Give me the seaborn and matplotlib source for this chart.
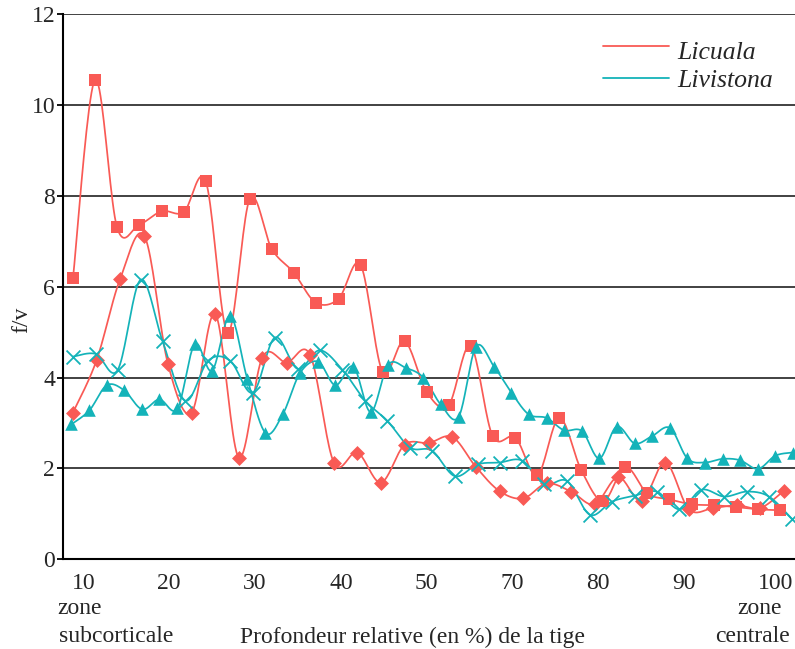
import numpy as np
import pandas as pd
import matplotlib
matplotlib.use("Agg")
import matplotlib.pyplot as plt
import seaborn as sns
from matplotlib.lines import Line2D

# ---------------- data ----------------
x_tick_labels = ["10", "20", "30", "40", "50", "70", "80", "90", "100"]

lic_sq_x = [10.0, 12.8, 15.6, 18.4, 21.3, 24.1, 26.9, 29.7, 32.5, 35.3, 38.1, 40.9, 43.8,
            46.6, 49.4, 52.2, 55.0, 57.8, 60.6, 63.4, 66.3, 69.1, 71.9, 74.7, 77.5, 80.3,
            83.1, 85.9, 88.8, 91.6, 94.4, 97.2, 100.0]
lic_sq_y = [6.19, 10.55, 7.31, 7.36, 7.66, 7.64, 8.32, 4.99, 7.93, 6.83, 6.31, 5.65, 5.73,
            6.48, 4.13, 4.80, 3.69, 3.39, 4.70, 2.72, 2.68, 1.85, 3.11, 1.96, 1.28, 2.03,
            1.45, 1.32, 1.21, 1.19, 1.15, 1.10, 1.08]

lic_di_x = [10.0, 13.0, 16.0, 19.1, 22.1, 25.1, 28.1, 31.1, 34.1, 37.2, 40.2, 43.2, 46.2,
            49.2, 52.2, 55.3, 58.3, 61.3, 64.3, 67.3, 70.3, 73.4, 76.4, 79.4, 82.4, 85.4,
            88.4, 91.5, 94.5, 97.5, 100.5]
lic_di_y = [3.23, 4.38, 6.17, 7.11, 4.29, 3.23, 5.40, 2.24, 4.44, 4.33, 4.49, 2.13, 2.35,
            1.69, 2.52, 2.56, 2.69, 2.03, 1.50, 1.34, 1.67, 1.49, 1.21, 1.81, 1.28, 2.13,
            1.10, 1.13, 1.19, 1.13, 1.51]

liv_tr_x = [9.8, 12.1, 14.3, 16.5, 18.8, 21.0, 23.3, 25.5, 27.7, 30.0, 32.2, 34.5, 36.7,
            38.9, 41.2, 43.4, 45.7, 47.9, 50.1, 52.4, 54.6, 56.8, 59.1, 61.3, 63.6, 65.8,
            68.0, 70.3, 72.5, 74.8, 77.0, 79.2, 81.5, 83.7, 86.0, 88.2, 90.4, 92.7, 94.9,
            97.2, 99.4, 101.6]
liv_tr_y = [2.97, 3.28, 3.83, 3.72, 3.30, 3.52, 3.32, 4.74, 4.15, 5.36, 3.96, 2.78, 3.19,
            4.10, 4.35, 3.83, 4.24, 3.24, 4.28, 4.21, 4.00, 3.41, 3.14, 4.68, 4.24, 3.67,
            3.19, 3.11, 2.84, 2.82, 2.22, 2.92, 2.55, 2.71, 2.89, 2.22, 2.13, 2.21, 2.18,
            1.99, 2.28, 2.35]

liv_cr_x = [10.0, 12.9, 15.7, 18.6, 21.4, 24.3, 27.2, 30.0, 32.9, 35.7, 38.6, 41.4, 44.3,
            47.2, 50.0, 52.9, 55.7, 58.6, 61.5, 64.3, 67.2, 70.0, 72.9, 75.8, 78.6, 81.5,
            84.3, 87.2, 90.0, 92.9, 95.8, 98.6, 101.5]
liv_cr_y = [4.46, 4.52, 4.17, 6.15, 4.80, 3.49, 4.37, 4.37, 3.67, 4.88, 4.19, 4.60, 4.17,
            3.49, 3.05, 2.46, 2.39, 1.83, 2.09, 2.13, 2.17, 1.65, 1.72, 0.98, 1.27, 1.40,
            1.49, 1.10, 1.53, 1.38, 1.49, 1.38, 0.89]

RED = "#F95A55"
TEAL = "#14B3B9"

# ---------------- helpers ----------------
W, H = 795, 649


def smooth(x, y, n=20):
    P = np.column_stack([np.asarray(x, float), np.asarray(y, float)])
    P = np.vstack([P[0], P, P[-1]])
    segs = []
    t = np.linspace(0, 1, n, endpoint=False)[:, None]
    for i in range(1, len(P) - 2):
        p0, p1, p2, p3 = P[i - 1], P[i], P[i + 1], P[i + 2]
        c1 = p1 + (p2 - p0) / 6.0
        c2 = p2 - (p3 - p1) / 6.0
        segs.append((1 - t) ** 3 * p1 + 3 * (1 - t) ** 2 * t * c1
                    + 3 * (1 - t) * t ** 2 * c2 + t ** 3 * p2)
    segs.append(P[-2][None, :])
    s = np.vstack(segs)
    return pd.DataFrame({"x": s[:, 0], "y": s[:, 1]})


def px2x(px):
    return 10 + (px - 73.0) / 7.856


sns.set_style("white")
plt.rcParams["font.family"] = ["Liberation Serif", "DejaVu Serif"]
FS = 17

fig = plt.figure(figsize=(W / 100, H / 100), dpi=100)
ax = fig.add_axes([62.7 / W, 1 - 559.3 / H, 1 - 62.7 / W, (559.3 - 14) / H])

series = [
    (lic_sq_x, lic_sq_y, RED, "s", 72, 0),
    (lic_di_x, lic_di_y, RED, "D", 58, 0),
    (liv_tr_x, liv_tr_y, TEAL, "^", 82, 0),
    (liv_cr_x, liv_cr_y, TEAL, "x", 100, 1.3),
]
for xs, ys, col, mk, sz, lw in series:
    sns.lineplot(data=smooth(xs, ys), x="x", y="y", sort=False, estimator=None,
                 color=col, lw=1.25, ax=ax)
for xs, ys, col, mk, sz, lw in series:
    if mk == "x":
        sns.scatterplot(x=xs, y=ys, marker=mk, s=sz, color=col, linewidth=lw,
                        ax=ax, zorder=3)
    else:
        sns.scatterplot(x=xs, y=ys, marker=mk, s=sz, color=col, edgecolor=col,
                        linewidth=0, ax=ax, zorder=3)

ax.set_xlim(px2x(62.7), px2x(795))
ax.set_ylim(0, 12)
ax.set_yticks(range(0, 13, 2))
ax.set_yticklabels([str(v) for v in range(0, 13, 2)], fontsize=FS)
ax.yaxis.grid(True, color="#333333", lw=1.3)
ax.xaxis.grid(False)
ax.tick_params(axis="y", left=True, length=4, width=1.3, color="black", pad=1.5)

tick_pos = [px2x(71.7 + 85.8 * i) for i in range(len(x_tick_labels))]
ax.set_xticks(tick_pos)
ax.set_xticklabels(x_tick_labels, fontsize=FS, ha="left")
ax.tick_params(axis="x", bottom=False, length=0, pad=10)
ax.set_xlabel("")
ax.set_ylabel("")
for sp in ["top", "right"]:
    ax.spines[sp].set_visible(False)
for sp in ["left", "bottom"]:
    ax.spines[sp].set_color("black")
    ax.spines[sp].set_linewidth(1.5)

# axis texts
fig.text(21.7 / W, 1 - 320 / H, "f/v", rotation=90, ha="center", va="center", fontsize=FS)
fig.text(57 / W, 1 - 608.5 / H, "zone", ha="left", va="center", fontsize=FS)
fig.text(59 / W, 1 - 637 / H, "subcorticale", ha="left", va="center", fontsize=FS)
fig.text(412.6 / W, 1 - 637 / H, "Profondeur relative (en %) de la tige",
         ha="center", va="center", fontsize=FS)
fig.text(782 / W, 1 - 608.5 / H, "zone", ha="right", va="center", fontsize=FS)
fig.text(790 / W, 1 - 637 / H, "centrale", ha="right", va="center", fontsize=FS)

# legend
for (yl, yt, col, name) in [(46, 59.3, RED, "Licuala"), (77.7, 87.3, TEAL, "Livistona")]:
    fig.add_artist(Line2D([603 / W, 669 / W], [1 - yl / H, 1 - yl / H], color=col, lw=1.3))
    fig.text(677 / W, 1 - yt / H, name, ha="left", va="baseline", fontsize=18.5,
             style="italic")

fig.savefig("out.png", dpi=100)
